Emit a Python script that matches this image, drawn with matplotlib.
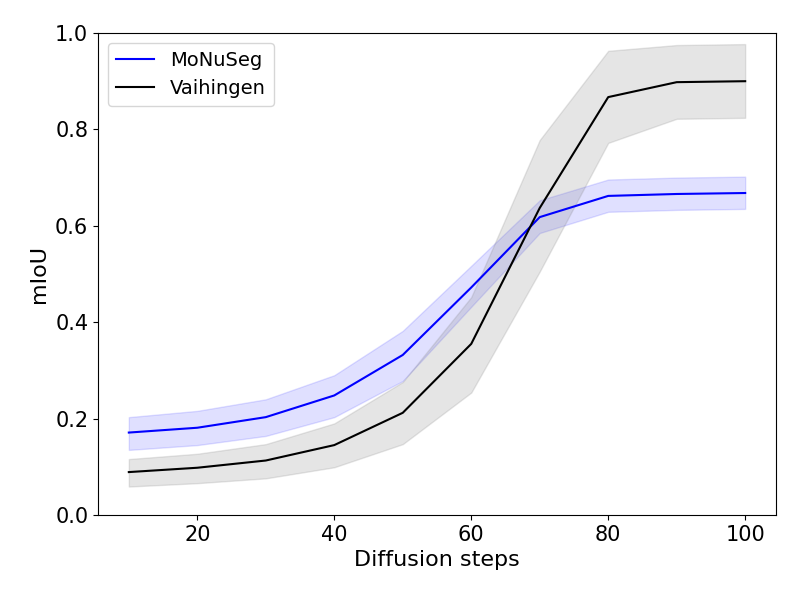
import numpy as np
import matplotlib
matplotlib.use("Agg")
import matplotlib.pyplot as plt

# diffusion steps
steps = np.array([10, 20, 30, 40, 50, 60, 70, 80, 90, 100])

# MoNuSeg mean / band
mon_mean = np.array([0.171, 0.181, 0.203, 0.248, 0.332, 0.472, 0.618, 0.662, 0.666, 0.668])
mon_up = np.array([0.203, 0.216, 0.240, 0.290, 0.382, 0.517, 0.653, 0.696, 0.700, 0.702])
mon_lo = np.array([0.135, 0.145, 0.164, 0.203, 0.278, 0.432, 0.585, 0.629, 0.633, 0.635])

# Vaihingen mean / band
vai_mean = np.array([0.089, 0.098, 0.113, 0.145, 0.212, 0.355, 0.637, 0.867, 0.898, 0.900])
vai_up = np.array([0.116, 0.127, 0.147, 0.190, 0.276, 0.452, 0.778, 0.963, 0.975, 0.977])
vai_lo = np.array([0.059, 0.066, 0.076, 0.099, 0.147, 0.254, 0.505, 0.772, 0.822, 0.824])

fig, ax = plt.subplots(figsize=(8, 6), dpi=100)
fig.subplots_adjust(left=0.1225, right=0.97, top=0.945, bottom=0.1417)

ax.plot(steps, mon_mean, color="blue", label="MoNuSeg")
ax.fill_between(steps, mon_lo, mon_up, color="blue", alpha=0.12)
ax.plot(steps, vai_mean, color="black", label="Vaihingen")
ax.fill_between(steps, vai_lo, vai_up, color="gray", alpha=0.2)

ax.set_ylim(0, 1.0)
ax.set_xlabel("Diffusion steps", fontsize=16)
ax.set_ylabel("mIoU", fontsize=16)
ax.tick_params(labelsize=15)
ax.legend(loc="upper left", fontsize=14)

plt.savefig("out.png", dpi=100)
